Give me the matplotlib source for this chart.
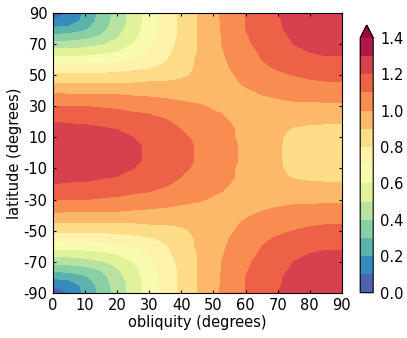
import numpy as np
import matplotlib
matplotlib.use("Agg")
import matplotlib.pyplot as plt

plt.rcParams['font.family'] = ['DejaVu Sans']
plt.rcParams['axes.unicode_minus'] = False

# obliquity (degrees), columns
obliquity = [0, 5, 10, 15, 20, 25, 30, 35, 40, 45, 50, 55, 60, 65, 70, 75, 80, 85, 90]
# latitude (degrees), rows
latitude = [-90, -85, -80, -75, -70, -65, -60, -55, -50, -45, -40, -35, -30, -25, -20, -15, -10, -5,
            0, 5, 10, 15, 20, 25, 30, 35, 40, 45, 50, 55, 60, 65, 70, 75, 80, 85, 90]
# normalized annual-mean insolation
insolation = [
    [0.00, 0.11, 0.22, 0.33, 0.44, 0.54, 0.64, 0.73, 0.82, 0.90, 0.98, 1.04, 1.10, 1.15, 1.20, 1.23, 1.25, 1.27, 1.27],
    [0.11, 0.14, 0.23, 0.34, 0.44, 0.54, 0.64, 0.73, 0.82, 0.90, 0.97, 1.04, 1.10, 1.15, 1.19, 1.23, 1.25, 1.27, 1.27],
    [0.22, 0.23, 0.28, 0.36, 0.46, 0.55, 0.65, 0.74, 0.82, 0.90, 0.97, 1.04, 1.10, 1.15, 1.19, 1.22, 1.24, 1.26, 1.26],
    [0.33, 0.34, 0.36, 0.41, 0.49, 0.57, 0.66, 0.74, 0.82, 0.90, 0.97, 1.03, 1.09, 1.14, 1.18, 1.21, 1.23, 1.25, 1.25],
    [0.44, 0.44, 0.46, 0.49, 0.53, 0.60, 0.68, 0.75, 0.83, 0.90, 0.97, 1.03, 1.08, 1.13, 1.17, 1.20, 1.22, 1.23, 1.24],
    [0.54, 0.54, 0.55, 0.57, 0.60, 0.64, 0.70, 0.77, 0.84, 0.90, 0.96, 1.02, 1.07, 1.11, 1.15, 1.18, 1.20, 1.21, 1.21],
    [0.64, 0.64, 0.65, 0.66, 0.68, 0.70, 0.74, 0.79, 0.85, 0.91, 0.96, 1.01, 1.06, 1.10, 1.13, 1.16, 1.17, 1.19, 1.19],
    [0.73, 0.73, 0.74, 0.74, 0.75, 0.77, 0.79, 0.82, 0.86, 0.91, 0.96, 1.00, 1.04, 1.08, 1.11, 1.13, 1.15, 1.16, 1.16],
    [0.82, 0.82, 0.82, 0.82, 0.83, 0.84, 0.85, 0.86, 0.88, 0.92, 0.95, 0.99, 1.02, 1.06, 1.08, 1.10, 1.12, 1.13, 1.13],
    [0.90, 0.90, 0.90, 0.90, 0.90, 0.90, 0.91, 0.91, 0.92, 0.93, 0.95, 0.98, 1.01, 1.03, 1.05, 1.07, 1.08, 1.09, 1.09],
    [0.98, 0.97, 0.97, 0.97, 0.97, 0.96, 0.96, 0.96, 0.95, 0.95, 0.96, 0.97, 0.99, 1.01, 1.03, 1.04, 1.05, 1.06, 1.06],
    [1.04, 1.04, 1.04, 1.03, 1.03, 1.02, 1.01, 1.00, 0.99, 0.98, 0.97, 0.97, 0.98, 0.99, 1.00, 1.01, 1.01, 1.02, 1.02],
    [1.10, 1.10, 1.10, 1.09, 1.08, 1.07, 1.06, 1.04, 1.02, 1.01, 0.99, 0.98, 0.97, 0.97, 0.97, 0.98, 0.98, 0.98, 0.98],
    [1.15, 1.15, 1.15, 1.14, 1.13, 1.11, 1.10, 1.08, 1.06, 1.03, 1.01, 0.99, 0.97, 0.95, 0.95, 0.94, 0.94, 0.94, 0.94],
    [1.20, 1.19, 1.19, 1.18, 1.17, 1.15, 1.13, 1.11, 1.08, 1.05, 1.03, 1.00, 0.97, 0.95, 0.93, 0.92, 0.91, 0.91, 0.91],
    [1.23, 1.23, 1.22, 1.21, 1.20, 1.18, 1.16, 1.13, 1.10, 1.07, 1.04, 1.01, 0.98, 0.94, 0.92, 0.89, 0.88, 0.87, 0.87],
    [1.25, 1.25, 1.24, 1.23, 1.22, 1.20, 1.17, 1.15, 1.12, 1.08, 1.05, 1.01, 0.98, 0.94, 0.91, 0.88, 0.86, 0.85, 0.84],
    [1.27, 1.27, 1.26, 1.25, 1.23, 1.21, 1.19, 1.16, 1.13, 1.09, 1.06, 1.02, 0.98, 0.94, 0.91, 0.87, 0.85, 0.83, 0.82],
    [1.27, 1.27, 1.26, 1.25, 1.24, 1.21, 1.19, 1.16, 1.13, 1.09, 1.06, 1.02, 0.98, 0.94, 0.91, 0.87, 0.84, 0.82, 0.81],
    [1.27, 1.27, 1.26, 1.25, 1.23, 1.21, 1.19, 1.16, 1.13, 1.09, 1.06, 1.02, 0.98, 0.94, 0.91, 0.87, 0.85, 0.83, 0.82],
    [1.25, 1.25, 1.24, 1.23, 1.22, 1.20, 1.17, 1.15, 1.12, 1.08, 1.05, 1.01, 0.98, 0.94, 0.91, 0.88, 0.86, 0.85, 0.84],
    [1.23, 1.23, 1.22, 1.21, 1.20, 1.18, 1.16, 1.13, 1.10, 1.07, 1.04, 1.01, 0.98, 0.94, 0.92, 0.89, 0.88, 0.87, 0.87],
    [1.20, 1.19, 1.19, 1.18, 1.17, 1.15, 1.13, 1.11, 1.08, 1.05, 1.03, 1.00, 0.97, 0.95, 0.93, 0.92, 0.91, 0.91, 0.91],
    [1.15, 1.15, 1.15, 1.14, 1.13, 1.11, 1.10, 1.08, 1.06, 1.03, 1.01, 0.99, 0.97, 0.95, 0.95, 0.94, 0.94, 0.94, 0.94],
    [1.10, 1.10, 1.10, 1.09, 1.08, 1.07, 1.06, 1.04, 1.02, 1.01, 0.99, 0.98, 0.97, 0.97, 0.97, 0.98, 0.98, 0.98, 0.98],
    [1.04, 1.04, 1.04, 1.03, 1.03, 1.02, 1.01, 1.00, 0.99, 0.98, 0.97, 0.97, 0.98, 0.99, 1.00, 1.01, 1.01, 1.02, 1.02],
    [0.98, 0.97, 0.97, 0.97, 0.97, 0.96, 0.96, 0.96, 0.95, 0.95, 0.96, 0.97, 0.99, 1.01, 1.03, 1.04, 1.05, 1.06, 1.06],
    [0.90, 0.90, 0.90, 0.90, 0.90, 0.90, 0.91, 0.91, 0.92, 0.93, 0.95, 0.98, 1.01, 1.03, 1.05, 1.07, 1.08, 1.09, 1.09],
    [0.82, 0.82, 0.82, 0.82, 0.83, 0.84, 0.85, 0.86, 0.88, 0.92, 0.95, 0.99, 1.02, 1.06, 1.08, 1.10, 1.12, 1.13, 1.13],
    [0.73, 0.73, 0.74, 0.74, 0.75, 0.77, 0.79, 0.82, 0.86, 0.91, 0.96, 1.00, 1.04, 1.08, 1.11, 1.13, 1.15, 1.16, 1.16],
    [0.64, 0.64, 0.65, 0.66, 0.68, 0.70, 0.74, 0.79, 0.85, 0.91, 0.96, 1.01, 1.06, 1.10, 1.13, 1.16, 1.17, 1.19, 1.19],
    [0.54, 0.54, 0.55, 0.57, 0.60, 0.64, 0.70, 0.77, 0.84, 0.90, 0.96, 1.02, 1.07, 1.11, 1.15, 1.18, 1.20, 1.21, 1.21],
    [0.44, 0.44, 0.46, 0.49, 0.53, 0.60, 0.68, 0.75, 0.83, 0.90, 0.97, 1.03, 1.08, 1.13, 1.17, 1.20, 1.22, 1.23, 1.24],
    [0.33, 0.34, 0.36, 0.41, 0.49, 0.57, 0.66, 0.74, 0.82, 0.90, 0.97, 1.03, 1.09, 1.14, 1.18, 1.21, 1.23, 1.25, 1.25],
    [0.22, 0.23, 0.28, 0.36, 0.46, 0.55, 0.65, 0.74, 0.82, 0.90, 0.97, 1.04, 1.10, 1.15, 1.19, 1.22, 1.24, 1.26, 1.26],
    [0.11, 0.14, 0.23, 0.34, 0.44, 0.54, 0.64, 0.73, 0.82, 0.90, 0.97, 1.04, 1.10, 1.15, 1.19, 1.23, 1.25, 1.27, 1.27],
    [0.00, 0.11, 0.22, 0.33, 0.44, 0.54, 0.64, 0.73, 0.82, 0.90, 0.98, 1.04, 1.10, 1.15, 1.20, 1.23, 1.25, 1.27, 1.27],
]
levels = [0.0, 0.1, 0.2, 0.3, 0.4, 0.5, 0.6, 0.7, 0.8, 0.9, 1.0, 1.1, 1.2, 1.3, 1.4]
xticks = [0, 10, 20, 30, 40, 50, 60, 70, 80, 90]
yticks = [-90, -70, -50, -30, -10, 10, 30, 50, 70, 90]
cbar_ticks = [0.0, 0.2, 0.4, 0.6, 0.8, 1.0, 1.2, 1.4]

fs = 10.5
fig = plt.figure(figsize=(4.07, 3.38), dpi=100)
ax = fig.add_axes([0.130, 0.134, 0.710, 0.827])
cs = ax.contourf(obliquity, latitude, np.array(insolation), levels=levels,
                 cmap='Spectral_r', extend='max')
ax.set_xlim(0, 90)
ax.set_ylim(-90, 90)
ax.set_xticks(xticks)
ax.set_yticks(yticks)
ax.tick_params(direction='in', top=True, right=True, labelsize=fs, length=2.5, pad=4)
ax.set_xlabel('obliquity (degrees)', fontsize=fs, labelpad=1)
ax.set_ylabel('latitude (degrees)', fontsize=fs, labelpad=1)

cax = fig.add_axes([0.885, 0.134, 0.032, 0.792])
cb = fig.colorbar(cs, cax=cax, ticks=cbar_ticks)
cb.ax.set_yticklabels([f"{t:.1f}" for t in cbar_ticks])
cb.ax.tick_params(labelsize=fs, length=0, pad=5)

fig.savefig("out.png", dpi=100)
